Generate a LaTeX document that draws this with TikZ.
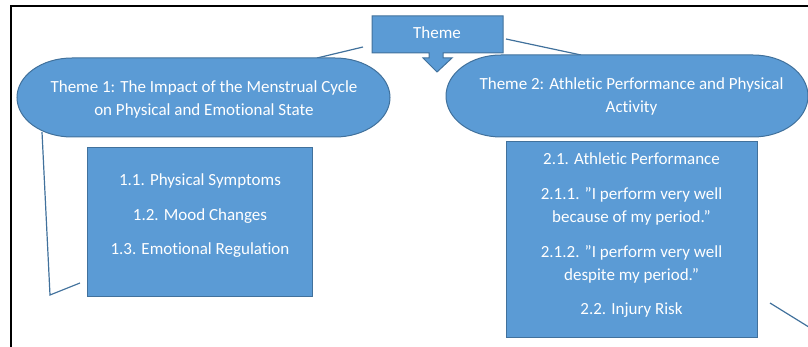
\documentclass[tikz,border=0pt]{standalone}
\usepackage{fontspec}
\setmainfont{Carlito}[Ligatures={ResetAll,NoCommon}]
\definecolor{themefill}{HTML}{5B9BD5}
\definecolor{themeline}{HTML}{41719C}
\tikzset{
  box/.style={fill=themefill, draw=themeline, line width=1pt, inner sep=0pt},
  txt/.style={text=white, font=\fontsize{17}{23}\selectfont, align=center, inner sep=0pt},
  link/.style={draw=themeline, line width=1.2pt}
}

\begin{document}
\begin{tikzpicture}[x=1pt, y=-1pt]
            \useasboundingbox (0,0) rectangle (808,347);
            \draw[line width=2pt] (11,347) -- (11,6) -- (808,6);

            \coordinate (T1) at (363,47);
            \coordinate (E1) at (317,58);
            \coordinate (T2) at (506,39);
            \coordinate (E2) at (581,55);
            \coordinate (C1) at (42,132);
            \coordinate (C2) at (50,295);
            \coordinate (C3) at (80,283);
            \coordinate (D1) at (770,303);
            \coordinate (D2) at (812,329);

            \draw[link] (T1) -- (E1);
            \draw[link] (T2) -- (E2);
            \draw[link] (C1) -- (C2) -- (C3);
            \draw[link] (D1) -- (D2);

            \filldraw[box] (372,16) -- (503,16) -- (503,53) -- (443,53) -- (443,58) -- (452,58)
                -- (437,72) -- (423,58) -- (429,58) -- (429,53) -- (372,53) -- cycle;
            \node[txt] (theme) at (437,33) {Theme};

            \filldraw[box] (72,58) -- (335,58) arc[start angle=-90, end angle=90, x radius=55, y radius=39.5]
                -- (72,137) arc[start angle=90, end angle=270, x radius=55, y radius=39.5] -- cycle;
            \node[txt] (theme1) at (204,99.5) {Theme 1: The Impact of the Menstrual Cycle\\on Physical and Emotional State};

            \filldraw[box] (501,55) -- (753,55) arc[start angle=-90, end angle=90, x radius=55, y radius=41]
                -- (501,137) arc[start angle=90, end angle=270, x radius=55, y radius=41] -- cycle;
            \node[txt] (theme2) at (631.5,96.5) {Theme 2: Athletic Performance and Physical\\Activity};

            \node[box, minimum width=225, minimum height=148] (sub1) at (199.5,222) {};
            \node[txt] (s11) at (200,181) {1.1. Physical Symptoms};
            \node[txt] (s12) at (200,216) {1.2. Mood Changes};
            \node[txt] (s13) at (200,250) {1.3. Emotional Regulation};

            \node[box, minimum width=251, minimum height=195] (sub2) at (631.5,239.5) {};
            \node[txt] (s21) at (631.5,159) {2.1. Athletic Performance};
            \node[txt] (s211) at (631.5,206.5) {2.1.1. "I perform very well\\because of my period."};
            \node[txt] (s212) at (631.5,264.5) {2.1.2. "I perform very well\\despite my period."};
            \node[txt] (s22) at (631.5,310) {2.2. Injury Risk};
        \end{tikzpicture}
\end{document}
